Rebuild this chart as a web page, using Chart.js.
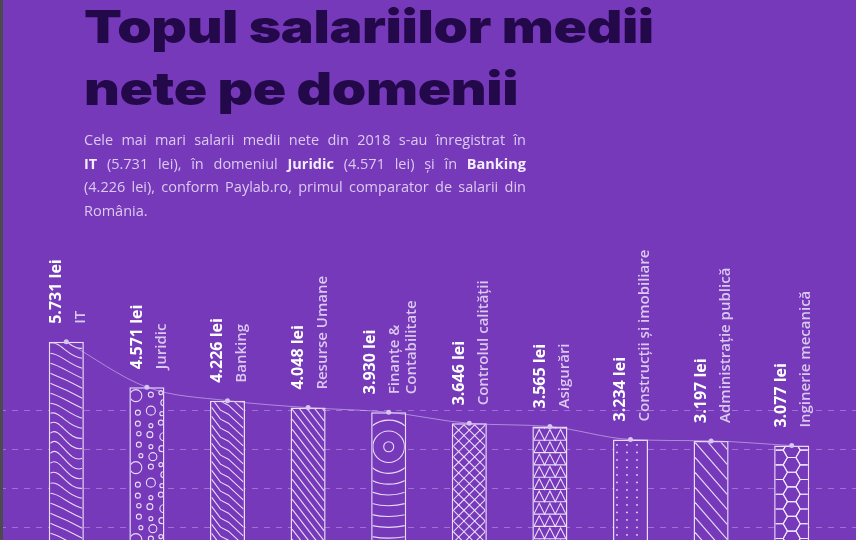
<!DOCTYPE html>
<html lang="ro">
<head>
<meta charset="utf-8">
<title>Topul salariilor medii nete pe domenii</title>
<script src="https://cdn.jsdelivr.net/npm/chart.js@4.4.1/dist/chart.umd.min.js"></script>
<style>
    html, body { margin: 0; padding: 0; }
    body {
        width: 856px; height: 540px; overflow: hidden; position: relative;
        background: #7639ba; font-family: 'Open Sans', sans-serif;
    }
    .edge { position: absolute; left: 0; top: 0; width: 3px; height: 540px; background: #4b4a50; z-index: 3; }
    .chart-wrap { position: absolute; left: 0; top: 0; width: 856px; height: 580px; }
    h1 {
        position: absolute; left: 84px; top: -5px; margin: 0; z-index: 2;
        font-family: Inter, sans-serif; font-weight: 900; font-size: 46px; line-height: 62px;
        color: #23094a; letter-spacing: -0.3px; white-space: nowrap;
        transform: scaleX(1.2); transform-origin: left top;
    }
    .lead {
        position: absolute; left: 84px; top: 128px; width: 442px; margin: 0; z-index: 2;
        font-size: 14.5px; line-height: 23.5px; text-align: justify; color: #dccbf1;
    }
    .lead span { display: block; }
    .lead .j { text-align-last: justify; }
    .lead b { color: #f3ecfc; }
</style>
</head>
<body>
<div class="edge"></div>
<h1>Topul salariilor medii<br>nete pe domenii</h1>
<p class="lead"><span class="j">Cele mai mari salarii medii nete din 2018 s-au înregistrat în</span><span class="j"><b>IT</b> (5.731 lei), în domeniul <b>Juridic</b> (4.571 lei) și în <b>Banking</b></span><span class="j">(4.226 lei), conform Paylab.ro, primul comparator de salarii din</span><span>România.</span></p>
<div class="chart-wrap"><canvas id="salaryChart"></canvas></div>

<script>
// domains, left to right
const categories = ['IT', 'Juridic', 'Banking', 'Resurse Umane', ['Finanțe &', 'Contabilitate'],
    'Controlul calității', 'Asigurări', 'Construcții și imobiliare', 'Administrație publică', 'Inginerie mecanică'];
// average net salary, lei
const salaries = [5731, 4571, 4226, 4048, 3930, 3646, 3565, 3234, 3197, 3077];
// dashed guide lines
const gridValues = [1000, 2000, 3000, 4000];
// fill texture of each bar
const textures = ['wood', 'bubbles', 'grain', 'hatch', 'rings', 'lattice', 'triangles', 'dots', 'wideHatch', 'honeycomb'];

const INK = 'rgba(242, 234, 252, 0.92)';

function lei(v) {
    return String(v).replace(/\B(?=(\d{3})+(?!\d))/g, '.') + ' lei';
}

function line(ctx, pts) {
    ctx.beginPath();
    ctx.moveTo(pts[0][0], pts[0][1]);
    for (let i = 1; i < pts.length; i++) ctx.lineTo(pts[i][0], pts[i][1]);
    ctx.stroke();
}

const painters = {
    wood(ctx, l, t, w, h) {
        for (let k = -4; k * 10 < h + 20; k++) {
            const y0 = t + k * 10;
            const s = Math.sin(k * 0.45) * 7;
            ctx.beginPath();
            ctx.moveTo(l, y0);
            ctx.bezierCurveTo(l + w * 0.3, y0 - 3 + s, l + w * 0.55, y0 + 14 - s, l + w, y0 + 15);
            ctx.stroke();
        }
    },
    bubbles(ctx, l, t, w, h) {
        const tile = [[5,7,6],[20,6,2.5],[30,4,2],[33,14,3],[7,24,2.5],[20,22,4.5],[31,25,2],[7,35,2.5],
            [20,37,2],[30,34,2.5],[8,45,2.2],[19,46,3],[33,48,4],[8,56,2.5],[20,58,2],[31,60,3],[10,67,2],[22,68,4]];
        for (let oy = 0; oy < h; oy += 72) {
            tile.forEach(([cx, cy, r]) => {
                ctx.beginPath(); ctx.arc(l + cx, t + oy + cy, r, 0, Math.PI * 2); ctx.stroke();
            });
        }
    },
    grain(ctx, l, t, w, h) {
        for (let y0 = t - 40; y0 < t + h; y0 += 9) {
            line(ctx, [[l, y0], [l + 9, y0 + 12], [l + 17, y0 + 16], [l + w, y0 + 30]]);
        }
    },
    hatch(ctx, l, t, w, h) {
        for (let y0 = t - 60; y0 < t + h; y0 += 10) line(ctx, [[l, y0], [l + w, y0 + w * 1.3]]);
    },
    rings(ctx, l, t, w, h, cx) {
        const cy = t + 33;
        for (let r = 5; r < 320; r += 10.8) {
            ctx.beginPath(); ctx.arc(cx, cy, r, 0, Math.PI * 2); ctx.stroke();
        }
    },
    lattice(ctx, l, t, w, h) {
        const step = w / 3;
        for (let y0 = t - 2 * w; y0 < t + h + w; y0 += step) {
            line(ctx, [[l, y0], [l + w, y0 + w]]);
            line(ctx, [[l, y0], [l + w, y0 - w]]);
        }
    },
    triangles(ctx, l, t, w, h) {
        const cw = w / 3, rh = 12.3;
        for (let yb = t; yb < t + h + rh; yb += rh) {
            line(ctx, [[l, yb], [l + w, yb]]);
            const pts = [[l, yb]];
            for (let c = 0; c < 3; c++) pts.push([l + c * cw + cw / 2, yb - rh + 1.5], [l + (c + 1) * cw, yb]);
            line(ctx, pts);
        }
    },
    dots(ctx, l, t, w, h) {
        for (let yy = t + 4; yy < t + h; yy += 7.5) {
            for (let xx = l + 2.5; xx < l + w; xx += 10) {
                ctx.beginPath(); ctx.arc(xx, yy, 0.9, 0, Math.PI * 2); ctx.fill();
            }
        }
    },
    wideHatch(ctx, l, t, w, h) {
        for (let y0 = t - 60; y0 < t + h; y0 += 15) line(ctx, [[l, y0], [l + w, y0 + w * 1.15]]);
    },
    honeycomb(ctx, l, t, w, h, cx) {
        const s = 8.5, hh = Math.sqrt(3) * s;
        for (let c = -2; c <= 2; c++) {
            const x0 = cx + c * 1.5 * s;
            const off = Math.abs(c) % 2 ? hh / 2 : 0;
            for (let cy = t + 3 - off; cy < t + h + hh; cy += hh) {
                const pts = [];
                for (let a = 0; a <= 6; a++) pts.push([x0 + s * Math.cos(a * Math.PI / 3), cy + s * Math.sin(a * Math.PI / 3)]);
                line(ctx, pts);
            }
        }
    }
};

function drawUp(ctx, text, x, y, font, color) {
    ctx.save();
    ctx.translate(x, y);
    ctx.rotate(-Math.PI / 2);
    ctx.font = font;
    ctx.fillStyle = color;
    ctx.textAlign = 'left';
    ctx.textBaseline = 'alphabetic';
    ctx.fillText(text, 0, 0);
    ctx.restore();
}

const decor = {
    id: 'decor',
    beforeDatasetsDraw(chart) {
        const { ctx, scales: { y } } = chart;
        ctx.save();
        ctx.strokeStyle = 'rgba(190, 150, 232, 0.6)';
        ctx.lineWidth = 1;
        ctx.setLineDash([6, 6]);
        gridValues.forEach(v => {
            const py = Math.round(y.getPixelForValue(v)) + 0.5;
            ctx.beginPath(); ctx.moveTo(0, py); ctx.lineTo(chart.width, py); ctx.stroke();
        });
        ctx.restore();
    },
    afterDatasetDraw(chart, args) {
        if (args.index !== 0) return;
        const ctx = chart.ctx;
        args.meta.data.forEach((bar, i) => {
            const { x, y, base, width } = bar.getProps(['x', 'y', 'base', 'width'], true);
            const bw = 1.5;
            const l = x - width / 2 + bw, t = y + bw;
            ctx.save();
            ctx.beginPath();
            ctx.rect(l, t, width - 2 * bw, base - t);
            ctx.clip();
            ctx.strokeStyle = INK;
            ctx.fillStyle = INK;
            ctx.lineWidth = 1.1;
            painters[textures[i]](ctx, l, t, width - 2 * bw, base - t, x);
            ctx.restore();
        });
    },
    afterDatasetsDraw(chart) {
        const ctx = chart.ctx;
        chart.getDatasetMeta(0).data.forEach((bar, i) => {
            const names = [].concat(categories[i]);
            const cap = 11.5, gapValue = 24, gapLine = 17;
            const groupW = cap + gapValue + gapLine * (names.length - 1);
            const bx = bar.x - groupW / 2 + cap + 1;
            const by = bar.y - 18;
            drawUp(ctx, lei(salaries[i]), bx, by, 'bold 16px "Open Sans"', '#ffffff');
            names.forEach((n, j) => drawUp(ctx, n, bx + gapValue + j * gapLine, by, '600 15px "Open Sans"', '#dac8f0'));
        });
    }
};

new Chart(document.getElementById('salaryChart'), {
    type: 'bar',
    data: {
        labels: categories,
        datasets: [{
            data: salaries,
            backgroundColor: '#7639ba',
            borderColor: INK,
            borderWidth: 1.5,
            categoryPercentage: 1,
            barPercentage: 0.435,
            order: 1
        }, {
            type: 'line',
            data: salaries,
            borderColor: 'rgba(214, 194, 240, 0.6)',
            borderWidth: 1,
            cubicInterpolationMode: 'monotone',
            pointRadius: 2.5,
            pointBorderWidth: 0,
            pointBackgroundColor: '#d8c5f0',
            order: 0
        }]
    },
    options: {
        responsive: true,
        maintainAspectRatio: false,
        animation: false,
        layout: { padding: { top: 253, bottom: 14, left: 26, right: 24 } },
        plugins: { legend: { display: false }, tooltip: { enabled: false } },
        scales: {
            x: { display: false },
            y: { display: false, min: 0, max: 8000 }
        }
    },
    plugins: [decor]
});
</script>
</body>
</html>
